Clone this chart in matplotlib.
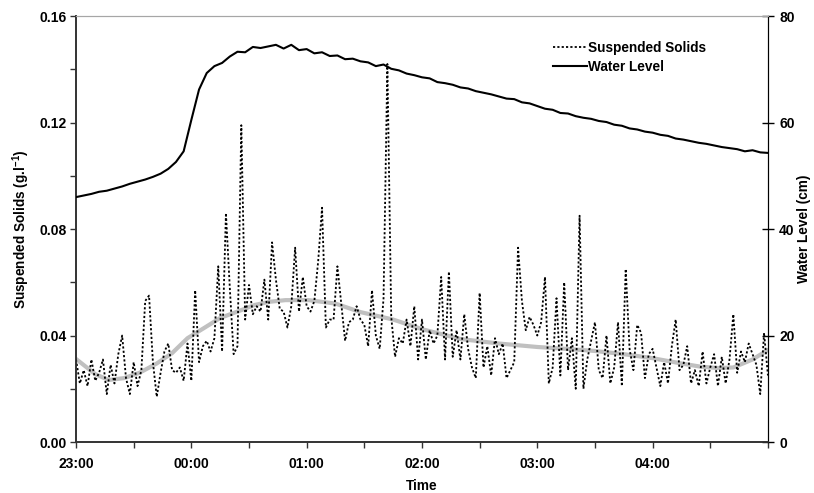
import numpy as np
import matplotlib
matplotlib.use("Agg")
import matplotlib.pyplot as plt
from matplotlib.ticker import FixedLocator, MultipleLocator

plt.rcParams['font.family'] = ['Liberation Sans', 'DejaVu Sans']
plt.rcParams['font.weight'] = 'bold'
plt.rcParams['mathtext.default'] = 'regular'

# suspended solids (g/l), every 2 minutes from 23:00 to 05:00
ss_values = [
    # 23:00 - 23:58
    0.031, 0.022, 0.027, 0.021, 0.031, 0.023, 0.026, 0.031, 0.018, 0.029,
    0.022, 0.033, 0.040, 0.024, 0.018, 0.030, 0.021, 0.027, 0.053, 0.055,
    0.030, 0.017, 0.026, 0.034, 0.037, 0.027, 0.026, 0.028, 0.023, 0.037,
    # 00:00 - 00:58
    0.023, 0.057, 0.030, 0.036, 0.038, 0.034, 0.039, 0.066, 0.034, 0.086,
    0.058, 0.033, 0.036, 0.119, 0.046, 0.059, 0.048, 0.051, 0.049, 0.061,
    0.046, 0.075, 0.061, 0.050, 0.049, 0.043, 0.051, 0.073, 0.049, 0.062,
    # 01:00 - 01:58
    0.051, 0.049, 0.053, 0.068, 0.088, 0.043, 0.046, 0.046, 0.066, 0.052,
    0.038, 0.045, 0.046, 0.051, 0.046, 0.044, 0.036, 0.057, 0.040, 0.035,
    0.054, 0.142, 0.047, 0.032, 0.039, 0.037, 0.046, 0.036, 0.051, 0.031,
    # 02:00 - 02:58
    0.046, 0.031, 0.042, 0.037, 0.040, 0.062, 0.031, 0.064, 0.032, 0.042,
    0.031, 0.048, 0.035, 0.028, 0.024, 0.056, 0.028, 0.036, 0.025, 0.039,
    0.033, 0.037, 0.024, 0.027, 0.030, 0.073, 0.053, 0.042, 0.047, 0.044,
    # 03:00 - 03:58
    0.040, 0.045, 0.062, 0.022, 0.028, 0.054, 0.025, 0.060, 0.027, 0.039,
    0.020, 0.085, 0.020, 0.031, 0.038, 0.045, 0.027, 0.024, 0.040, 0.022,
    0.028, 0.045, 0.021, 0.065, 0.035, 0.027, 0.044, 0.041, 0.024, 0.033,
    # 04:00 - 05:00
    0.035, 0.028, 0.021, 0.030, 0.022, 0.036, 0.046, 0.027, 0.029, 0.036,
    0.022, 0.027, 0.021, 0.034, 0.022, 0.028, 0.033, 0.021, 0.032, 0.022,
    0.031, 0.048, 0.026, 0.034, 0.030, 0.037, 0.033, 0.029, 0.018, 0.041,
    0.025,
]
ss_minutes = np.arange(len(ss_values)) * 2

# water level (cm), every 4 minutes from 23:00 to 05:00
wl_values = [
    46.0, 46.3, 46.6, 47.0, 47.2, 47.6, 48.0, 48.5, 48.9, 49.3,
    49.8, 50.4, 51.3, 52.6, 54.6, 60.5, 66.2, 69.3, 70.6, 71.2,
    72.4, 73.3, 73.2, 74.2, 74.0, 74.3, 74.6, 73.9, 74.6, 73.6,
    73.8, 73.0, 73.2, 72.5, 72.6, 71.9, 72.0, 71.5, 71.3, 70.6,
    70.9, 70.1, 69.8, 69.2, 68.9, 68.5, 68.3, 67.6, 67.4, 67.1,
    66.6, 66.4, 65.9, 65.6, 65.3, 64.9, 64.5, 64.4, 63.8, 63.6,
    63.1, 62.6, 62.4, 61.8, 61.7, 61.2, 60.9, 60.7, 60.3, 60.1,
    59.6, 59.4, 58.9, 58.7, 58.3, 58.1, 57.7, 57.5, 57.0, 56.8,
    56.5, 56.2, 56.0, 55.7, 55.4, 55.2, 55.0, 54.6, 54.8, 54.4,
    54.3,
]
wl_minutes = np.arange(len(wl_values)) * 4

# smooth trend of suspended solids (g/l)
trend_minutes = [0, 10, 17, 25, 33, 42, 50, 58, 67, 75, 84, 93, 101, 109, 121,
                 135, 148, 165, 180, 200, 220, 240, 255, 270, 285, 300, 315,
                 325, 334, 342, 352, 360]
trend_values = [0.0312, 0.0255, 0.0233, 0.0240, 0.0260, 0.0295, 0.0334, 0.0390,
                0.0430, 0.0466, 0.0490, 0.0515, 0.0527, 0.0533, 0.0533, 0.0520,
                0.0488, 0.0460, 0.0424, 0.0387, 0.0370, 0.0357, 0.0350, 0.0342,
                0.0330, 0.0315, 0.0295, 0.0283, 0.0278, 0.0280, 0.0310, 0.0346]

tick_labels = ['23:00', '00:00', '01:00', '02:00', '03:00', '04:00']

fig = plt.figure(figsize=(8.14, 4.93), dpi=100)
ax = fig.add_axes([0.0934, 0.1034, 0.850, 0.864])
ax2 = ax.twinx()

ax.plot(trend_minutes, trend_values, color='#c0c0c0', lw=3, zorder=2,
        solid_capstyle='round')
ss_line, = ax.plot(ss_minutes, ss_values, color='black', lw=1.3,
                   linestyle=(0, (1.2, 1.2)), zorder=3)
wl_line, = ax2.plot(wl_minutes, wl_values, color='black', lw=1.5, zorder=3)

ax.set_xlim(0, 360)
ax.set_ylim(0, 0.16)
ax2.set_ylim(0, 80)

ax.xaxis.set_major_locator(FixedLocator(np.arange(len(tick_labels)) * 60))
ax.set_xticklabels(tick_labels)
ax.xaxis.set_minor_locator(MultipleLocator(30))
ax.yaxis.set_major_locator(MultipleLocator(0.04))
ax.yaxis.set_minor_locator(MultipleLocator(0.02))
ax.set_yticklabels(['%.2f' % v for v in ax.get_yticks()])
ax2.yaxis.set_major_locator(MultipleLocator(20))

fs_tick = 10
fs_lab = 9.8
ax.tick_params(axis='both', which='both', direction='out', length=4,
               width=1, labelsize=fs_tick, color='#333333', pad=3)
ax.tick_params(axis='x', pad=7)
ax2.tick_params(axis='y', which='major', direction='inout', length=8,
                width=1, labelsize=fs_tick, pad=4)

for t in ax.get_xticklabels() + ax.get_yticklabels() + ax2.get_yticklabels():
    t.set_fontweight('bold')

ax.set_xlabel('Time', fontsize=fs_lab, fontweight='bold')
ax.set_ylabel('Suspended Solids (g.l$^{-1}$)', fontsize=fs_lab, fontweight='bold')
ax2.set_ylabel('Water Level (cm)', fontsize=fs_lab, fontweight='bold')
ax.xaxis.set_label_coords(0.5, -0.087)
ax.yaxis.set_label_coords(-0.063, 0.5)
ax2.yaxis.set_label_coords(1.042, 0.5)

for a in (ax, ax2):
    a.spines['top'].set_color('#a6a6a6')
    a.spines['left'].set_color('#333333')
    a.spines['bottom'].set_color('#333333')
    a.spines['right'].set_color('black')
    a.spines['left'].set_linewidth(1.2)
    a.spines['bottom'].set_linewidth(1.2)

leg = ax2.legend([ss_line, wl_line], ['Suspended Solids', 'Water Level'],
                 loc='upper left', bbox_to_anchor=(0.671, 0.97), frameon=False,
                 handlelength=2.5, handletextpad=0.1, labelspacing=0.35,
                 prop={'weight': 'bold', 'size': fs_lab})

fig.savefig('out.png', dpi=100)
